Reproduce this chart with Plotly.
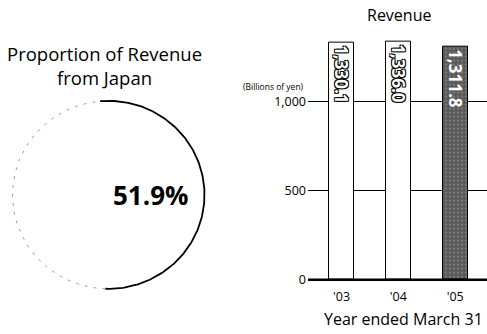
import numpy as np
import plotly.graph_objects as go

# ---- data ----
years = ["'03", "'04", "'05"]
revenue = [1330.1, 1336.0, 1311.8]          # billions of yen
japan_share = 51.9                            # % of revenue from Japan
y_ticks = [0, 500, 1000]
y_tick_text = ["0", "500", "1,000"]

W, H = 487, 334
FONT = "Open Sans"


def px_x(p):
    return p / W


def px_y(p):
    return 1 - p / H


fig = go.Figure()

# ---- ring: share of revenue from Japan ----
start_deg = -5.0
split_deg = start_deg + 360.0 * japan_share / 100.0
t_solid = np.radians(np.linspace(start_deg, split_deg, 200))
t_rest = np.radians(np.linspace(split_deg, start_deg + 360.0, 200))

fig.add_trace(go.Scatter(
    x=np.sin(t_rest), y=np.cos(t_rest), mode="lines",
    line=dict(color="#a0a0a0", width=1, dash="3px,6px"),
    xaxis="x2", yaxis="y2", hoverinfo="skip", showlegend=False))
fig.add_trace(go.Scatter(
    x=np.sin(t_solid), y=np.cos(t_solid), mode="lines",
    line=dict(color="black", width=1.8),
    xaxis="x2", yaxis="y2", hoverinfo="skip", showlegend=False))

# ---- revenue bars ----
white_outline = "1px 1px 0 #000, -1px -1px 0 #000, 1px -1px 0 #000, -1px 1px 0 #000"
fig.add_trace(go.Bar(
    x=list(range(len(years))), y=revenue, width=0.44,
    marker=dict(
        color=["white", "white", "#5a5a5a"],
        line=dict(color="black", width=1),
        pattern=dict(shape=["", "", "."], bgcolor="#0a0a0a",
                     size=4, solidity=0.1),
    ),
    texttemplate="%{y:,.1f}", textposition="inside",
    insidetextanchor="end", textangle=90, constraintext="none",
    textfont=dict(family=FONT, size=17, weight="bold",
                  color=["white", "white", "white"],
                  shadow=[white_outline, white_outline, "none"]),
    hoverinfo="skip", showlegend=False))

# baseline drawn over the bar bottoms
fig.add_hline(y=0, line=dict(color="black", width=2.5), layer="above")

fig.update_layout(
    width=W, height=H,
    margin=dict(l=0, r=0, t=0, b=0),
    paper_bgcolor="white", plot_bgcolor="white",
    font=dict(family=FONT, color="black"),
    bargap=0,
    xaxis=dict(
        domain=[px_x(308), 1.0], range=[-0.59, 2.56],
        tickvals=list(range(len(years))), ticktext=years,
        tickfont=dict(size=12.5), ticks="", ticklabelstandoff=6,
        showgrid=False, zeroline=False, showline=False, fixedrange=True),
    yaxis=dict(
        domain=[px_y(287.5), px_y(31.3)], range=[-10, 1400],
        tickvals=y_ticks, ticktext=y_tick_text,
        tickfont=dict(size=12.5), ticks="", ticklabelstandoff=1,
        showgrid=True, gridcolor="black", gridwidth=1,
        zeroline=False, showline=False, fixedrange=True),
    xaxis2=dict(domain=[px_x(7.7), px_x(209.3)], range=[-1.05, 1.05],
                visible=False, fixedrange=True),
    yaxis2=dict(domain=[px_y(299.8), px_y(98.2)], range=[-1.05, 1.05],
                visible=False, fixedrange=True),
    annotations=[
        dict(text="Proportion of Revenue<br>from Japan", x=px_x(104),
             y=px_y(67), xref="paper", yref="paper", showarrow=False,
             font=dict(size=18.5), xanchor="center", yanchor="middle"),
        dict(text="<b>%.1f%%</b>" % japan_share, x=px_x(150.5), y=px_y(199),
             xref="paper", yref="paper", showarrow=False,
             font=dict(size=26, color="black"),
             xanchor="center", yanchor="middle"),
        dict(text="Revenue", x=px_x(399), y=px_y(15), xref="paper",
             yref="paper", showarrow=False, font=dict(size=16),
             xanchor="center", yanchor="middle"),
        dict(text="(Billions of yen)", x=px_x(306), y=px_y(88),
             xref="paper", yref="paper", showarrow=False,
             font=dict(size=8.5), xanchor="right", yanchor="middle"),
        dict(text="Year ended March 31", x=px_x(403), y=px_y(326),
             xref="paper", yref="paper", showarrow=False,
             font=dict(size=16), xanchor="center", yanchor="middle"),
    ],
)

fig.write_html("out.html")
